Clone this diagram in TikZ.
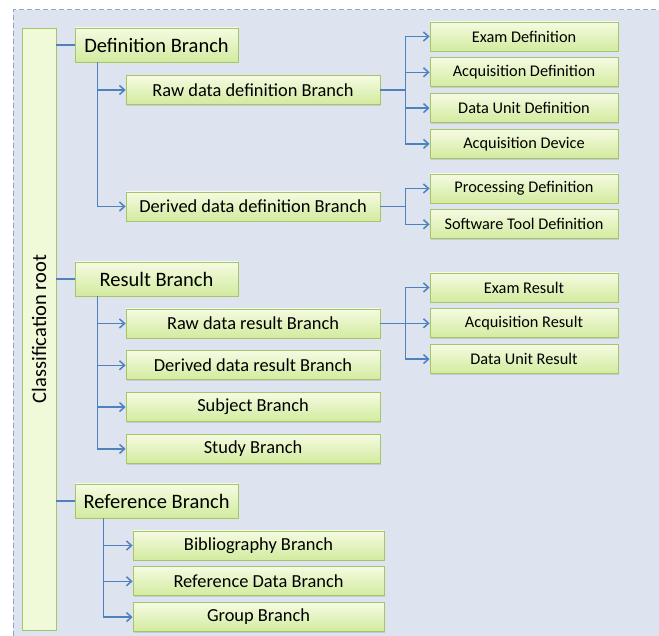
\documentclass[tikz,border=0pt]{standalone}
\usepackage{fontspec}
\setmainfont{Carlito}
\usepackage{xcolor}
\usetikzlibrary{shapes,arrows.meta,positioning,calc,shadows}
\definecolor{bgblue}{HTML}{DDE3EF}
\definecolor{dashblue}{HTML}{8CA6CC}
\definecolor{boxtop}{HTML}{F5FBE2}
\definecolor{boxbot}{HTML}{D2EB9E}
\definecolor{boxline}{HTML}{A6C46A}
\definecolor{linkblue}{HTML}{4F81BD}

\begin{document}
\begin{tikzpicture}[x=1pt, y=1pt, >={Straight Barb[length=5pt,width=9pt]}]
        % Styles
        \tikzstyle{box} = [rectangle, draw=boxline, line width=0.8pt, top color=boxtop, bottom color=boxbot, text centered, inner sep=0pt, drop shadow={shadow xshift=1.2pt, shadow yshift=-1.5pt, opacity=0.25}]
        \tikzstyle{branch} = [box, minimum width=163pt, minimum height=34pt, font=\fontsize{20.5}{24}\selectfont]
        \tikzstyle{sub} = [box, minimum width=254pt, minimum height=29pt, font=\fontsize{18.4}{22}\selectfont]
        \tikzstyle{leaf} = [box, minimum width=188pt, minimum height=29pt, font=\fontsize{16.3}{20}\selectfont]
        \tikzstyle{line} = [draw=linkblue, line width=1.5pt]
        \tikzstyle{link} = [line, ->]

        % Background
        \useasboundingbox (0,0) rectangle (659,636);
        \fill[bgblue] (13,0) rectangle (659,626);
        \draw[dashblue, line width=1pt, dash pattern=on 5pt off 3pt] (13,0) -- (13,626) -- (659,626);

        % Nodes
        \node [rectangle, draw=boxline, line width=0.8pt, fill=boxtop!85!boxbot, minimum width=34pt, minimum height=602pt, drop shadow={shadow xshift=1.2pt, shadow yshift=-1.5pt, opacity=0.2}] (root) at (39,307) {};
        \node [rotate=90, font=\fontsize{20.5}{24}\selectfont] (roottext) at (root.center) {Classification root};

        \node [branch] (defb) at (156.5,591) {Definition Branch};
        \node [sub] (rawdef) at (253,546) {Raw data definition Branch};
        \node [sub] (derdef) at (253,429.5) {Derived data definition Branch};
        \node [leaf] (exdef) at (524,599.5) {Exam Definition};
        \node [leaf, below=6pt of exdef] (acqdef) {Acquisition Definition};
        \node [leaf, below=6pt of acqdef] (dudef) {Data Unit Definition};
        \node [leaf, below=6pt of dudef] (acqdev) {Acquisition Device};
        \node [leaf] (procdef) at (524,447.5) {Processing Definition};
        \node [leaf, below=6pt of procdef] (swdef) {Software Tool Definition};

        \node [branch] (resb) at (156.5,357) {Result Branch};
        \node [sub] (rawres) at (253,312.5) {Raw data result Branch};
        \node [sub, below=12pt of rawres] (derres) {Derived data result Branch};
        \node [sub, below=12pt of derres] (subj) {Subject Branch};
        \node [sub, below=12pt of subj] (study) {Study Branch};
        \node [leaf] (exres) at (524,348.5) {Exam Result};
        \node [leaf, below=6pt of exres] (acqres) {Acquisition Result};
        \node [leaf, below=6pt of acqres] (dures) {Data Unit Result};

        \node [branch] (refb) at (156.5,135) {Reference Branch};
        \node [sub, minimum width=251pt] (bib) at (258.5,90.5) {Bibliography Branch};
        \node [sub, minimum width=251pt, below=6pt of bib] (refdata) {Reference Data Branch};
        \node [sub, minimum width=251pt, below=6pt of refdata] (group) {Group Branch};

        % Edges
        \foreach \b in {defb,resb,refb}
            \path [line] (root.east |- \b.west) -- (\b.west);
        \foreach \c in {rawdef,derdef}
            \path [link] ([xshift=23pt]defb.south west) |- (\c.west);
        \foreach \c in {rawres,derres,subj,study}
            \path [link] ([xshift=23pt]resb.south west) |- (\c.west);
        \foreach \c in {bib,refdata,group}
            \path [link] ([xshift=29pt]refb.south west) |- (\c.west);
        \foreach \c in {exdef,acqdef,dudef,acqdev}
            \path [link] (rawdef.east) -- ++(25pt,0) |- (\c.west);
        \foreach \c in {procdef,swdef}
            \path [link] (derdef.east) -- ++(25pt,0) |- (\c.west);
        \foreach \c in {exres,acqres,dures}
            \path [link] (rawres.east) -- ++(25pt,0) |- (\c.west);

    \end{tikzpicture}
\end{document}
